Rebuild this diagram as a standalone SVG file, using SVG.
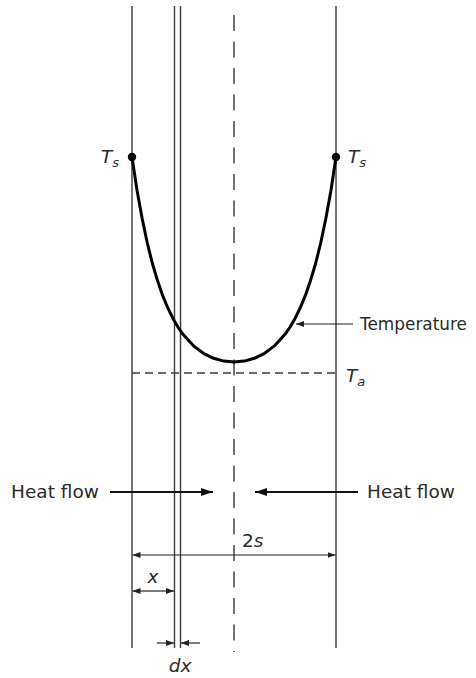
<svg xmlns="http://www.w3.org/2000/svg" width="476" height="678" viewBox="0 0 476 678">
<style>
.wall{stroke:#3a3a3a;stroke-width:1.4;fill:none}
.dash{stroke:#3a3a3a;stroke-width:1.4;fill:none}
.dim{stroke:#222;stroke-width:1.2;fill:none}
.arr{stroke:#111;stroke-width:2;fill:none}
.lbl{font-family:"DejaVu Sans","Liberation Sans",sans-serif;font-size:18.5px;fill:#2a2a2a}
.it{font-style:italic}
</style>
<defs>
<marker id="big" viewBox="0 0 12 8" refX="12" refY="4" markerWidth="12" markerHeight="8" markerUnits="userSpaceOnUse" orient="auto"><path d="M0,0 L12,4 L0,8 Z" fill="#111"/></marker>
<marker id="small" viewBox="0 0 8 6" refX="8" refY="3" markerWidth="8" markerHeight="6" markerUnits="userSpaceOnUse" orient="auto"><path d="M0,0 L8,3 L0,6 Z" fill="#222"/></marker>
</defs>
<g id="walls">
<line class="wall" x1="132" y1="6" x2="132" y2="648"/>
<line class="wall" x1="336" y1="6" x2="336" y2="648"/>
<line class="wall" x1="174.5" y1="6" x2="174.5" y2="648"/>
<line class="wall" x1="180.5" y1="6" x2="180.5" y2="648"/>
<line class="dash" x1="234" y1="15" x2="234" y2="652" stroke-dasharray="16,10.5"/>
<line class="dash" x1="132" y1="373" x2="336" y2="373" stroke-dasharray="8,5"/>
</g>
<g id="temperature-curve">
<polyline fill="none" stroke="#000" stroke-width="3" stroke-linejoin="round" points="132,157 137.1,190.7 142.2,218.8 147.3,243 152.4,263.5 157.5,280.6 162.6,295.4 167.7,307.7 172.8,318.2 177.9,327 183,334.3 193.2,345.6 203.4,353.3 213.6,358.3 223.8,361.1 234,362 244.2,361.1 254.4,358.3 264.6,353.3 274.8,345.6 285,334.3 290.1,327 295.2,318.2 300.3,307.7 305.4,295.4 310.5,280.6 315.6,263.5 320.7,243 325.8,218.8 330.9,190.7 336,157"/>
<circle cx="132" cy="157" r="4.2" fill="#000"/>
<circle cx="336" cy="157" r="4.2" fill="#000"/>
</g>
<g id="connectors">
<line class="dim" x1="353" y1="324" x2="296" y2="324" marker-end="url(#small)"/>
<line class="arr" x1="110" y1="492" x2="213" y2="492" marker-end="url(#big)"/>
<line class="arr" x1="358" y1="492" x2="255" y2="492" marker-end="url(#big)"/>
<line class="dim" x1="183" y1="555" x2="132.5" y2="555" marker-end="url(#small)"/>
<line class="dim" x1="183" y1="555" x2="335.5" y2="555" marker-end="url(#small)"/>
<line class="dim" x1="153" y1="591" x2="132.5" y2="591" marker-end="url(#small)"/>
<line class="dim" x1="153" y1="591" x2="174" y2="591" marker-end="url(#small)"/>
<line class="dim" x1="157" y1="643" x2="174" y2="643" marker-end="url(#small)"/>
<line class="dim" x1="200" y1="643" x2="181" y2="643" marker-end="url(#small)"/>
</g>
<g id="labels">
<text class="lbl" x="101" y="163"><tspan class="it">T</tspan><tspan class="it" font-size="13" dy="4">s</tspan></text>
<text class="lbl" x="348" y="163"><tspan class="it">T</tspan><tspan class="it" font-size="13" dy="4">s</tspan></text>
<text class="lbl" x="346" y="382"><tspan class="it">T</tspan><tspan class="it" font-size="13" dy="4">a</tspan></text>
<text class="lbl" x="360" y="330" font-size="17.5" textLength="107" lengthAdjust="spacingAndGlyphs">Temperature</text>
<text class="lbl" x="11" y="498">Heat flow</text>
<text class="lbl" x="367" y="498">Heat flow</text>
<text class="lbl" x="242" y="547">2<tspan class="it">s</tspan></text>
<text class="lbl it" x="153" y="583" text-anchor="middle">x</text>
<text class="lbl it" x="180" y="672" text-anchor="middle">dx</text>
</g>
</svg>
